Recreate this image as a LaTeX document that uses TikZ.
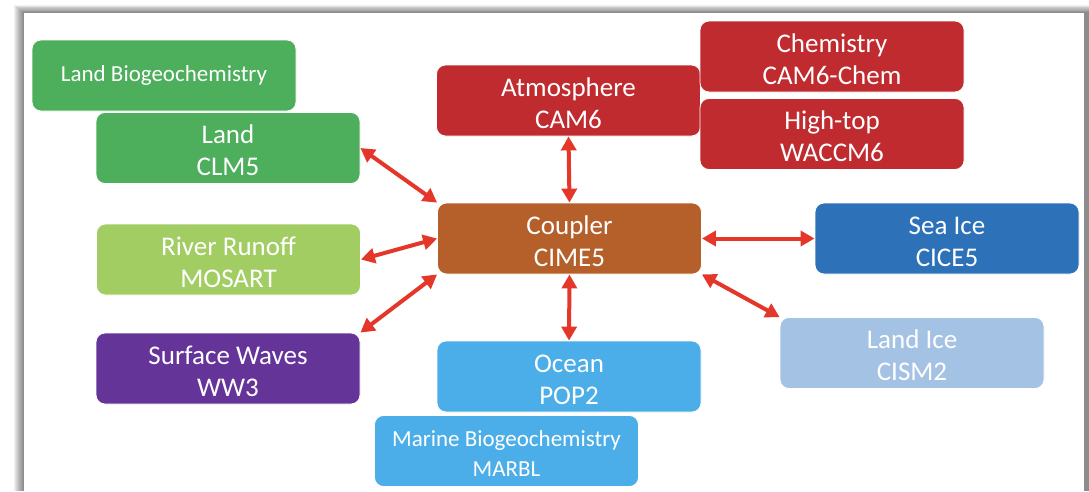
\documentclass[tikz,border=0pt]{standalone}
\usepackage{fontspec}
\setmainfont{Carlito}
\usetikzlibrary{arrows.meta}
\definecolor{cgreen}{HTML}{4DAE5C}
\definecolor{clgreen}{HTML}{A1CD63}
\definecolor{cpurple}{HTML}{653499}
\definecolor{cred}{HTML}{BF2B2F}
\definecolor{cbrown}{HTML}{B5602A}
\definecolor{cblue}{HTML}{2D71B8}
\definecolor{clblue}{HTML}{A4C2E4}
\definecolor{cocean}{HTML}{4BAEE8}
\definecolor{arrowred}{HTML}{E5362A}
\newcommand\myup{\rule{0pt}{23.5pt}}
\begin{document}
\begin{tikzpicture}[x=1pt,y=-1pt,
  box/.style={rounded corners=9pt, draw=white, line width=0.8pt, text=white,
    minimum width=264pt, minimum height=71pt, inner sep=0pt, align=center,
    font=\fontsize{27}{32}\selectfont},
  smalltext/.style={font=\fontsize{23}{30}\selectfont},
  link/.style={draw=arrowred, line width=4pt,
    {Triangle[length=14pt,width=15pt]}-{Triangle[length=14pt,width=15pt]}}]
\useasboundingbox (0,0) rectangle (1089,491);
\fill[white] (0,0) rectangle (1089,491);
\foreach \i in {0,...,9}
  \fill[black,opacity=0.055] ({14+\i},{5+0.8*\i}) rectangle (1089,491);
\fill[white] (24,13) rectangle (1084,491);

\node[box, fill=cgreen, smalltext] (lbgc) at (164,75.5) {Land Biogeochemistry};
\node[box, fill=cgreen] (land) at (228,148) {\myup Land\\CLM5};
\node[box, fill=cred] (atm) at (568.5,100.5) {\myup Atmosphere\\CAM6};
\node[box, fill=cred] (chem) at (832,56.5) {\myup Chemistry\\CAM6-Chem};
\node[box, fill=cred] (hightop) at (832,134) {\myup High-top\\WACCM6};
\node[box, fill=cbrown] (coupler) at (569.5,238.5) {\myup Coupler\\CIME5};
\node[box, fill=cblue] (seaice) at (947,238.5) {\myup Sea Ice\\CICE5};
\node[box, fill=clgreen] (river) at (228.5,259.5) {\myup River Runoff\\MOSART};
\node[box, fill=cpurple] (waves) at (228,368.5) {\myup Surface Waves\\WW3};
\node[box, fill=cocean] (ocean) at (569,376.5) {\myup Ocean\\POP2};
\node[box, fill=clblue] (landice) at (912,353) {\myup Land Ice\\CISM2};
\node[box, fill=cocean, smalltext] (marbl) at (506.5,451) {\rule{0pt}{20pt}Marine Biogeochemistry\\MARBL};

\draw[link] (land.east) -- (coupler.north west);
\draw[link] (river.east) -- (coupler.west);
\draw[link] (waves.north east) -- (coupler.south west);
\draw[link] (atm.south) -- (coupler.north);
\draw[link] (coupler.south) -- (ocean.north);
\draw[link] (coupler.east) -- (seaice.west);
\draw[link] (coupler.south east) -- (landice.north west);
\end{tikzpicture}
\end{document}
